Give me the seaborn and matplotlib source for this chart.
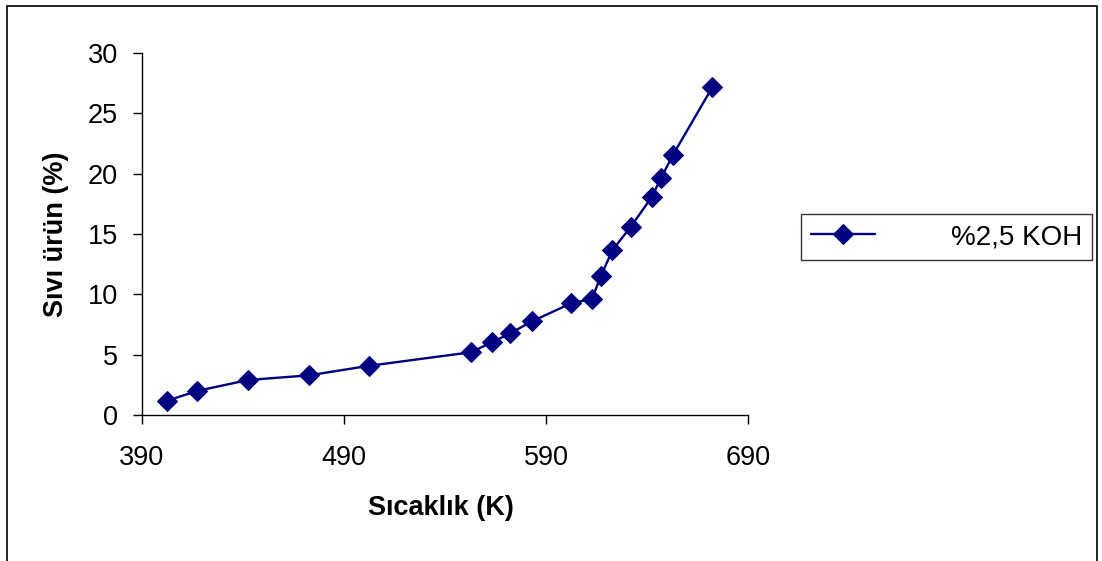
import matplotlib
matplotlib.use("Agg")
import matplotlib.pyplot as plt
import matplotlib.patches as mpatches
import seaborn as sns
import pandas as pd

temperature = [402.4, 417.2, 442.5, 472.8, 502.5, 552.9, 563.3, 572.3, 583.0,
               602.5, 612.7, 617.3, 622.9, 632.0, 642.5, 647.0, 652.9, 672.3]
liquid = [1.18, 1.99, 2.90, 3.29, 4.08, 5.20, 6.03, 6.77, 7.76,
          9.26, 9.61, 11.55, 13.67, 15.60, 18.1, 19.66, 21.57, 27.15]
series_name = "%2,5 KOH"
x_ticks = [390, 490, 590, 690]
y_ticks = [0, 5, 10, 15, 20, 25, 30]

sns.set_theme(style="ticks")
plt.rcParams['font.family'] = ['Liberation Sans', 'DejaVu Sans']
plt.rcParams['text.color'] = 'black'

df = pd.DataFrame({"T": temperature, "Y": liquid, "s": series_name})

fig = plt.figure(figsize=(11.02, 5.61), dpi=100)
W, H = 1102, 561
ax = fig.add_axes([142 / W, 1 - 415 / H, (748 - 142) / W, (415 - 53) / H])

sns.lineplot(data=df, x="T", y="Y", marker="D", markersize=10, color="#000080",
             linewidth=1.7, markeredgecolor="#000080", ax=ax, label=series_name,
             legend=False)

ax.set_xlim(390, 690)
ax.set_ylim(0, 30)
ax.set_xticks(x_ticks)
ax.set_yticks(y_ticks)
ax.tick_params(axis="both", labelsize=19.5, length=6.5, width=1, color="black",
               direction="out", labelcolor="black", pad=11)
ax.tick_params(axis="x", pad=15)
for s in ["top", "right"]:
    ax.spines[s].set_visible(False)
for s in ["left", "bottom"]:
    ax.spines[s].set_color("black")
    ax.spines[s].set_linewidth(1)

ax.set_xlabel("")
ax.set_ylabel("")
fig.text(441 / W, 1 - 508 / H, "Sıcaklık (K)", fontsize=19.5, fontweight="bold",
         ha="center", va="center", color="black")
fig.text(56 / W, 1 - 234 / H, "Sıvı ürün (%)", fontsize=19.5, fontweight="bold",
         ha="center", va="center", rotation=90, color="black")

handles, labels = ax.get_legend_handles_labels()
leg = fig.legend(handles, labels, loc="center left",
                 bbox_to_anchor=(801 / W, 1 - 237 / H),
                 fontsize=20, frameon=True, fancybox=False, edgecolor="black",
                 handlelength=2.3, handletextpad=2.75, borderpad=0.35,
                 borderaxespad=0)
leg.get_frame().set_linewidth(1)
for t in leg.get_texts():
    t.set_color("black")

border = mpatches.Rectangle((7 / W, -0.05), (1097 - 7) / W, 1.05 - 6 / H,
                            transform=fig.transFigure, fill=False,
                            edgecolor="black", linewidth=1.2)
fig.patches.append(border)

fig.savefig("out.png", dpi=100, facecolor="white")
